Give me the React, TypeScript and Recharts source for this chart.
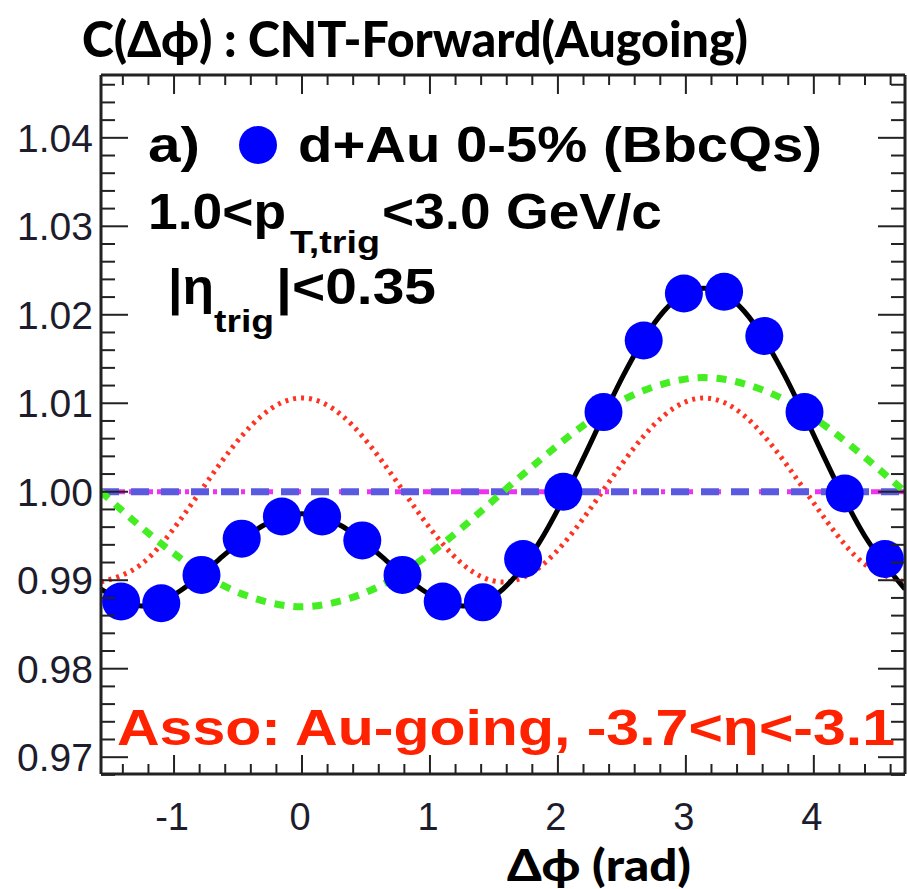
import { ComposedChart, Line, Scatter, XAxis, YAxis, ReferenceLine } from "recharts";

// dphi bin centres (rad) and measured correlation
const binPhi = [
  -1.4137, -1.0996, -0.7854, -0.4712, -0.1571, 0.1571, 0.4712, 0.7854, 1.0996, 1.4137,
  1.7279, 2.042, 2.3562, 2.6704, 2.9845, 3.2987, 3.6128, 3.927, 4.2412, 4.5553,
];
const cPhi = [
  0.9876, 0.9874, 0.9906, 0.9947, 0.9972, 0.9972, 0.9945, 0.9906, 0.9876, 0.9875,
  0.9924, 1.0, 1.009, 1.0171, 1.0224, 1.0226, 1.0176, 1.009, 0.9998, 0.9924,
];

// fit curves read at these dphi values
const curvePhi = [
  -1.5708, -1.2566, -0.9425, -0.6283, -0.3142, 0, 0.3142, 0.6283, 0.9425, 1.2566, 1.5708,
  1.885, 2.1991, 2.5133, 2.8274, 3.1416, 3.4558, 3.7699, 4.0841, 4.3982, 4.7124,
];
const fitTotal = [
  0.989, 0.9871, 0.9889, 0.9926, 0.9961, 0.9975, 0.9961, 0.9926, 0.9889, 0.9871, 0.989,
  0.995, 1.0038, 1.0132, 1.0204, 1.023, 1.0204, 1.0132, 1.0038, 0.995, 0.989,
];
const fitV1 = [
  1.0, 0.996, 0.9924, 0.9895, 0.9877, 0.987, 0.9877, 0.9895, 0.9924, 0.996, 1.0,
  1.0039, 1.0075, 1.0104, 1.0122, 1.0129, 1.0122, 1.0104, 1.0075, 1.0039, 1.0,
];
const fitV2 = [
  0.9898, 0.9918, 0.997, 1.0034, 1.0086, 1.0106, 1.0086, 1.0034, 0.997, 0.9918, 0.9898,
  0.9918, 0.997, 1.0034, 1.0086, 1.0106, 1.0086, 1.0034, 0.997, 0.9918, 0.9898,
];
const baseline = 1.0;

const xLabels = [-1, 0, 1, 2, 3, 4];
const yLabels = [0.97, 0.98, 0.99, 1.0, 1.01, 1.02, 1.03, 1.04];

const points = binPhi.map((x, i) => ({ x, y: cPhi[i] }));
const curves = curvePhi.map((x, i) => ({ x, total: fitTotal[i], v1: fitV1[i], v2: fitV2[i] }));

// minor ticks every 0.2 rad / 0.002
const xTicks = Array.from({ length: 31 }, (_, i) => Math.round((-1.4 + 0.2 * i) * 10) / 10);
const yTicks = Array.from({ length: 40 }, (_, i) => Math.round((0.968 + 0.002 * i) * 1000) / 1000);

const W = 907;
const H = 889;
const axisColor = "#222";
const tickFont = "'Liberation Sans', Arial, sans-serif";
const labelColor = "#1c1c2c";

const isMajorX = (v) => xLabels.some((l) => Math.abs(l - v) < 1e-6);
const isMajorY = (v) => yLabels.some((l) => Math.abs(l - v) < 1e-6);

const BottomTick = ({ x, y, payload }) => {
  const major = isMajorX(payload.value);
  return (
    <g>
      <line x1={x} x2={x} y1={y} y2={y - (major ? 19 : 10)} stroke={axisColor} strokeWidth={2} />
      {major && (
        <text x={x - 2} y={y + 56} textAnchor="middle" fontFamily={tickFont} fontSize={38} fill={labelColor}>
          {payload.value}
        </text>
      )}
    </g>
  );
};

const TopTick = ({ x, y, payload }) => {
  const major = isMajorX(payload.value);
  return <line x1={x} x2={x} y1={y} y2={y + (major ? 19 : 10)} stroke={axisColor} strokeWidth={2} />;
};

const LeftTick = ({ x, y, payload }) => {
  const major = isMajorY(payload.value);
  return (
    <g>
      <line x1={x} x2={x + (major ? 27 : 14)} y1={y} y2={y} stroke={axisColor} strokeWidth={2} />
      {major && (
        <text x={x - 8} y={y + 14} textAnchor="end" fontFamily={tickFont} fontSize={39} fill={labelColor}>
          {payload.value.toFixed(2)}
        </text>
      )}
    </g>
  );
};

const RightTick = ({ x, y, payload }) => {
  const major = isMajorY(payload.value);
  return <line x1={x} x2={x - (major ? 27 : 14)} y1={y} y2={y} stroke={axisColor} strokeWidth={2} />;
};

const Dot = (p) => <circle cx={p.cx} cy={p.cy} r={19} fill="#0000ff" />;

const bold = "'Liberation Sans', Arial, sans-serif";
const calibri = "Lato, 'DejaVu Sans', sans-serif";

export default function App() {
  const xDomain = [-Math.PI / 2, (3 * Math.PI) / 2];
  const yDomain = [0.9681, 1.0471];
  return (
    <div style={{ position: "absolute", left: 0, top: 0, width: W, height: H, background: "#fff" }}>
      <ComposedChart width={W} height={H} margin={{ top: 74, right: 1, bottom: 114, left: 100 }}>
        <XAxis
          dataKey="x"
          type="number"
          domain={xDomain}
          allowDataOverflow
          ticks={xTicks}
          interval={0}
          height={1}
          tickSize={0}
          tickMargin={0}
          tickLine={false}
          tick={BottomTick}
          axisLine={{ stroke: axisColor, strokeWidth: 3 }}
        />
        <XAxis
          xAxisId="t"
          orientation="top"
          dataKey="x"
          type="number"
          domain={xDomain}
          allowDataOverflow
          ticks={xTicks}
          interval={0}
          height={1}
          tickSize={0}
          tickMargin={0}
          tickLine={false}
          tick={TopTick}
          axisLine={{ stroke: axisColor, strokeWidth: 3 }}
        />
        <YAxis
          type="number"
          domain={yDomain}
          allowDataOverflow
          ticks={yTicks}
          interval={0}
          width={1}
          tickSize={0}
          tickMargin={0}
          tickLine={false}
          tick={LeftTick}
          axisLine={{ stroke: axisColor, strokeWidth: 3 }}
        />
        <YAxis
          yAxisId="r"
          orientation="right"
          type="number"
          domain={yDomain}
          allowDataOverflow
          ticks={yTicks}
          interval={0}
          width={1}
          tickSize={0}
          tickMargin={0}
          tickLine={false}
          tick={RightTick}
          axisLine={{ stroke: axisColor, strokeWidth: 3 }}
        />
        <Scatter data={points} dataKey="y" shape={Dot} isAnimationActive={false} />
        <Line
          data={curves}
          dataKey="v2"
          type="natural"
          stroke="#ff3322"
          strokeWidth={5}
          strokeDasharray="3 5"
          dot={false}
          isAnimationActive={false}
        />
        <ReferenceLine y={baseline} stroke="#ee33ee" strokeWidth={5} strokeDasharray="4 10 10 4" />
        <ReferenceLine y={baseline} stroke="#5a5ae0" strokeWidth={7} strokeDasharray="18 12" />
        <Line
          data={curves}
          dataKey="v1"
          type="natural"
          stroke="#44ee22"
          strokeWidth={7}
          strokeDasharray="10 9"
          dot={false}
          isAnimationActive={false}
        />
        <Line
          data={curves}
          dataKey="total"
          type="natural"
          stroke="#000"
          strokeWidth={5}
          dot={false}
          isAnimationActive={false}
        />
      </ComposedChart>
      <svg width={W} height={H} style={{ position: "absolute", left: 0, top: 0, pointerEvents: "none" }}>
        <text x={82} y={57} fontFamily={calibri} fontWeight={900} fontSize={50} textLength={666} lengthAdjust="spacingAndGlyphs">
          C(Δϕ) : CNT-Forward(Augoing)
        </text>
        <text x={507} y={881} fontFamily={calibri} fontWeight={900} fontSize={44} textLength={184} lengthAdjust="spacingAndGlyphs">
          Δϕ (rad)
        </text>
        <g fontFamily={bold} fontWeight={700} fill="#000">
          <text x={148} y={162} fontSize={50} textLength={52} lengthAdjust="spacingAndGlyphs">a)</text>
          <circle cx={258} cy={145} r={19} fill="#0000ff" />
          <text x={298} y={162} fontSize={50} textLength={524} lengthAdjust="spacingAndGlyphs">d+Au 0-5% (BbcQs)</text>
          <text x={148} y={229} fontSize={50} textLength={138} lengthAdjust="spacingAndGlyphs">1.0&lt;p</text>
          <text x={290} y={253} fontSize={32} textLength={90} lengthAdjust="spacingAndGlyphs">T,trig</text>
          <text x={382} y={229} fontSize={50} textLength={280} lengthAdjust="spacingAndGlyphs">&lt;3.0 GeV/c</text>
          <text x={168} y={304} fontSize={50} textLength={46} lengthAdjust="spacingAndGlyphs">|η</text>
          <text x={214} y={332} fontSize={32} textLength={60} lengthAdjust="spacingAndGlyphs">trig</text>
          <text x={276} y={304} fontSize={50} textLength={160} lengthAdjust="spacingAndGlyphs">|&lt;0.35</text>
          <text x={117} y={745} fontSize={50} fill="#ff2200" textLength={778} lengthAdjust="spacingAndGlyphs">
            Asso: Au-going, -3.7&lt;η&lt;-3.1
          </text>
        </g>
      </svg>
    </div>
  );
}
